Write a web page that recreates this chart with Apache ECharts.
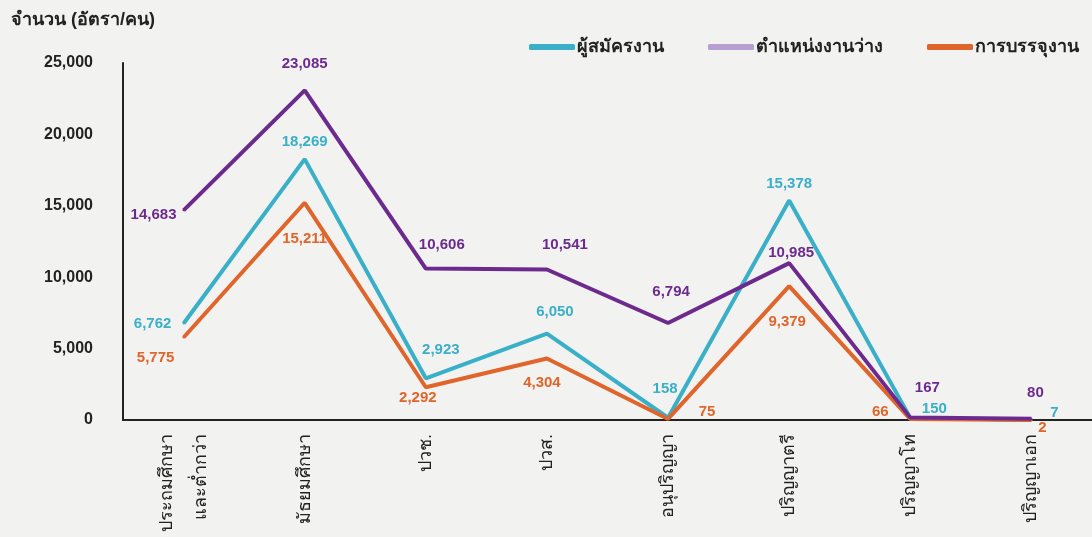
<!DOCTYPE html>
<html>
<head>
<meta charset="utf-8">
<script src="https://cdn.jsdelivr.net/npm/echarts@6/dist/echarts.min.js"></script>
<style>
html,body{margin:0;padding:0;background:#f2f2f1;}
#c{width:1092px;height:537px;}
</style>
</head>
<body>
<div id="c"></div>
<script>
const categories = ['ประถมศึกษา\nและต่ำกว่า','มัธยมศึกษา','ปวช.','ปวส.','อนุปริญญา','ปริญญาตรี','ปริญญาโท','ปริญญาเอก'];
const seriesNames = ['ผู้สมัครงาน','ตำแหน่งงานว่าง','การบรรจุงาน'];
const applicants = [6762, 18269, 2923, 6050, 158, 15378, 150, 7];
const vacancies = [14683, 23085, 10606, 10541, 6794, 10985, 167, 80];
const placements = [5775, 15211, 2292, 4304, 75, 9379, 66, 2];
const yTicks = [0, 5000, 10000, 15000, 20000, 25000];

// label offsets (label centre relative to point), styling only
const offApplicants = [[-31,0],[0,-17],[15,-28],[8,-22],[-3,-29],[0,-17],[24,-9],[23,-7]];
const offVacancies = [[-30,5],[0,-26],[16,-24],[18,-25],[3,-31],[2,-10],[17,-30],[4,-26]];
const offPlacements = [[-28,20],[0,36],[-8,11],[-5,24],[39,-7],[-2,36],[-30,-7],[11,8]];

const colors = ['#3aafc8','#6d2a8e','#e0652b'];
const legendColors = ['#3aafc8','#b89fd2','#e0652b'];

function mk(values, offs){
  return values.map((v,i)=>({
    value: v,
    label: {offset: offs[i]}
  }));
}
const fmt = p => Number(p.value).toLocaleString('en-US');

const chart = echarts.init(document.getElementById('c'));
const series = [[applicants, offApplicants],[vacancies, offVacancies],[placements, offPlacements]].map((d,ci)=>({
  name: seriesNames[ci],
  type: 'line',
  data: mk(d[0], d[1]),
  symbol: 'circle',
  symbolSize: 2,
  lineStyle: {color: colors[ci], width: 4},
  itemStyle: {color: colors[ci]},
  label: {
    show: true,
    position: 'inside',
    formatter: fmt,
    color: colors[ci],
    fontFamily: 'Liberation Sans, Arial, sans-serif',
    fontWeight: 'bold',
    fontSize: 15
  },
  emphasis: {disabled: true},
  z: ci === 1 ? 3 : 2
}));

chart.setOption({
  backgroundColor: '#f2f2f1',
  animation: false,
  title: {
    text: 'จำนวน (อัตรา/คน)',
    left: 6, top: 6,
    textStyle: {fontSize: 18, fontWeight: 'bold', color: '#222', fontFamily: 'sans-serif'}
  },
  legend: {
    right: 8, top: 33,
    itemWidth: 46, itemHeight: 6,
    itemGap: 44,
    icon: 'roundRect',
    textStyle: {fontSize: 18, fontWeight: 'bold', color: '#222', padding: [0,0,0,-3]},
    data: seriesNames.map((n,i)=>({name: n, itemStyle: {color: legendColors[i]}, lineStyle: {color: legendColors[i]}}))
  },
  grid: {left: 123, right: -2, top: 63, bottom: 117, containLabel: false},
  xAxis: {
    type: 'category',
    data: categories,
    boundaryGap: true,
    axisLine: {lineStyle: {color: '#222', width: 2}},
    axisTick: {show: false},
    axisLabel: {
      rotate: 90, interval: 0, margin: 14,
      fontSize: 18, color: '#222', lineHeight: 34,
      fontFamily: 'sans-serif'
    }
  },
  yAxis: {
    type: 'value',
    min: yTicks[0], max: yTicks[yTicks.length-1], interval: yTicks[1]-yTicks[0],
    axisLine: {show: true, lineStyle: {color: '#222', width: 2}},
    axisTick: {show: false},
    splitLine: {show: false},
    axisLabel: {
      margin: 30, fontSize: 16, fontWeight: 'bold', color: '#222',
      fontFamily: 'Liberation Sans, Arial, sans-serif',
      formatter: v => Number(v).toLocaleString('en-US')
    }
  },
  series: series
});
</script>
</body>
</html>
